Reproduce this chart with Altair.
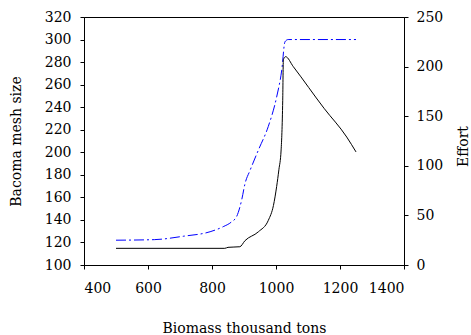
import altair as alt
import pandas as pd

# Mesh size series (left axis)
biomass_mesh = [500, 620, 710, 794, 835, 860, 877, 893, 903, 919, 945, 976, 1002, 1018, 1028, 1038, 1250]
mesh_size = [122, 122.5, 125.5, 129.5, 134, 138, 143, 158, 172, 184, 202, 223, 249, 273, 298, 300, 300]

# Effort series (right axis)
biomass_effort = [500, 840, 850, 887, 903, 945, 976, 992, 1002, 1009, 1016, 1021, 1023, 1030, 1054, 1150, 1221, 1250]
effort = [16.8, 16.8, 17.8, 18.4, 24.5, 33.5, 45, 60, 79, 96, 116, 166, 207, 210, 200, 158, 129, 114]

x_ticks = [400, 600, 800, 1000, 1200, 1400]
mesh_ticks = [100, 120, 140, 160, 180, 200, 220, 240, 260, 280, 300, 320]
effort_ticks = [0, 50, 100, 150, 200, 250]

mesh_df = pd.DataFrame({"Biomass": biomass_mesh, "Mesh": mesh_size})
effort_df = pd.DataFrame({"Biomass": biomass_effort, "Effort": effort})

FONT = "DejaVu Serif"

x_enc = alt.X(
    "Biomass:Q",
    scale=alt.Scale(domain=[400, 1400], nice=False, zero=False),
    axis=alt.Axis(
        values=x_ticks,
        format="d",
        title="Biomass thousand tons",
        labelPadding=12,
        titleX=160,
        titleY=67,
        titleBaseline="alphabetic",
        titleAlign="center",
    ),
)

mesh = alt.Chart(mesh_df).mark_line(
    color="#0000ff", strokeWidth=1, strokeDash=[10, 3, 2, 3], interpolate="monotone"
).encode(
    x=x_enc,
    y=alt.Y(
        "Mesh:Q",
        scale=alt.Scale(domain=[100, 320], nice=False, zero=False),
        axis=alt.Axis(
            values=mesh_ticks,
            format="d",
            orient="left",
            title="Bacoma mesh size",
            labelPadding=9,
            titleAngle=270,
            titleX=-68,
            titleY=124,
            titleBaseline="middle",
            titleAlign="center",
        ),
    ),
)

eff = alt.Chart(effort_df).mark_line(
    color="black", strokeWidth=1, interpolate="monotone"
).encode(
    x=x_enc,
    y=alt.Y(
        "Effort:Q",
        scale=alt.Scale(domain=[0, 250], nice=False, zero=False),
        axis=alt.Axis(
            values=effort_ticks,
            format="d",
            orient="right",
            title="Effort",
            labelPadding=8,
            titleAngle=270,
            titleX=59,
            titleY=129,
            titleBaseline="middle",
            titleAlign="center",
        ),
    ),
)

chart = (
    alt.layer(mesh, eff)
    .resolve_scale(y="independent")
    .properties(
        width=320,
        height=248,
        padding={"left": 84, "top": 17, "right": 67, "bottom": 70},
        autosize=alt.AutoSizeParams(type="none"),
        background="white",
    )
    .configure_view(stroke="black", strokeWidth=1)
    .configure_axis(
        grid=False,
        domainColor="black",
        domainWidth=1,
        tickColor="black",
        tickSize=4,
        tickWidth=1,
        labelColor="black",
        titleColor="black",
        labelFont=FONT,
        titleFont=FONT,
        labelFontSize=14,
        titleFontSize=14,
        titleFontWeight="normal",
    )
)

chart.save("out.html", embed_options={"renderer": "svg", "actions": False})
